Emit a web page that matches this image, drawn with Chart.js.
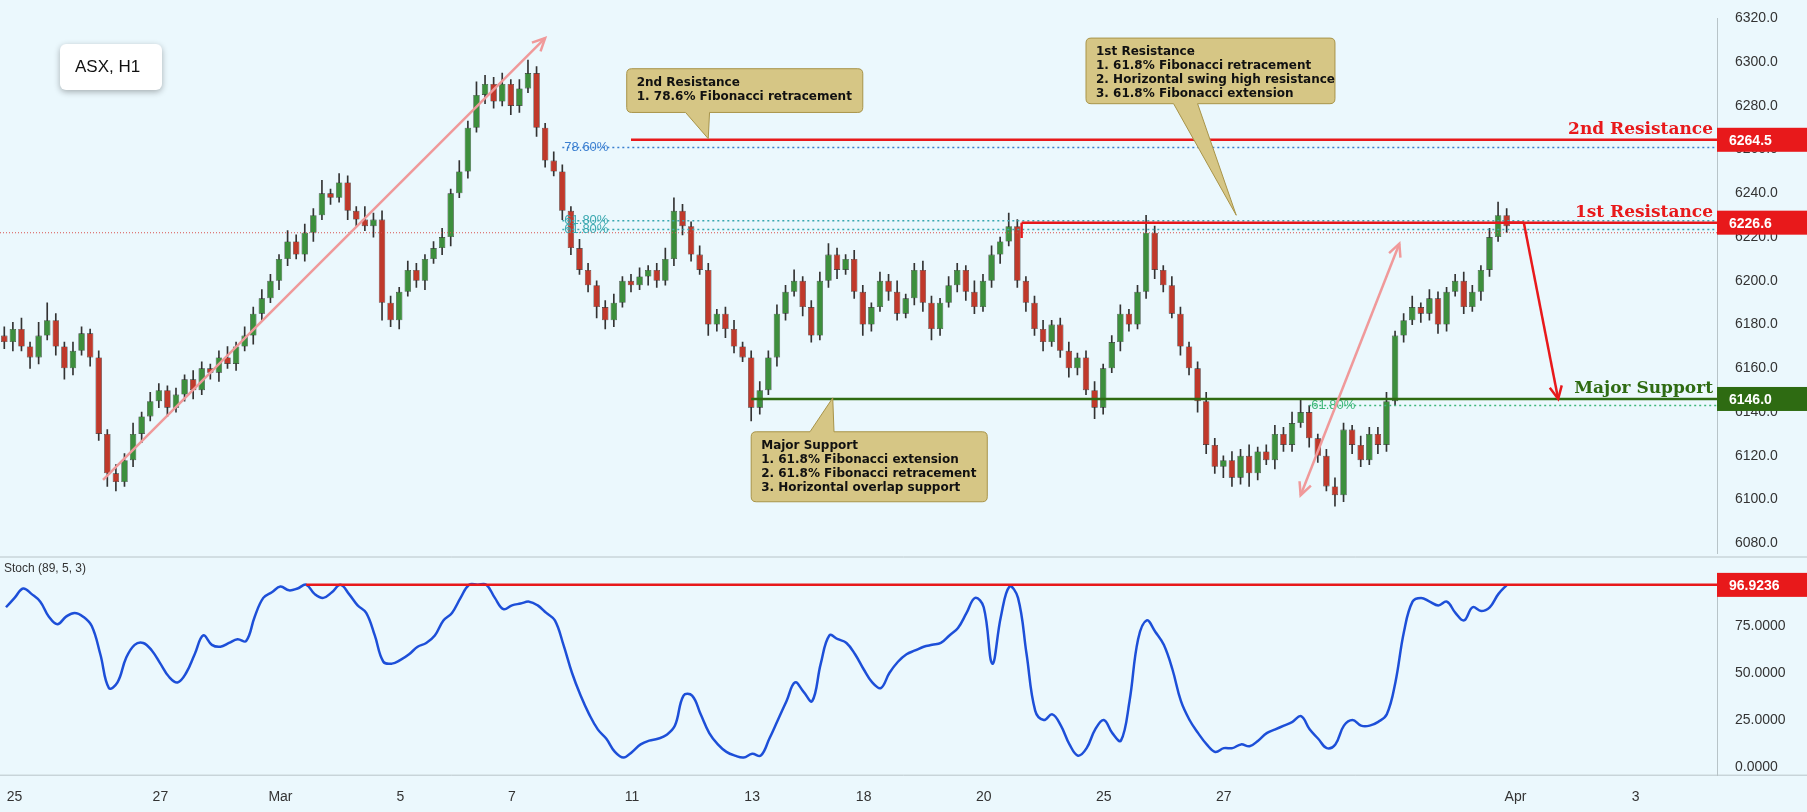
<!DOCTYPE html>
<html><head><meta charset="utf-8">
<script src="https://cdn.jsdelivr.net/npm/chart.js@4.4.1/dist/chart.umd.min.js"></script>
<style>
html,body{margin:0;padding:0;background:#ebf8fd;font-family:"Liberation Sans",Arial,sans-serif;}
#wrap{position:relative;width:1807px;height:812px;overflow:hidden;}
#top{position:absolute;left:0;top:0;width:1807px;height:572px;}
#bot{position:absolute;left:0;top:556px;width:1807px;height:256px;}
</style></head><body>
<div id="wrap">
  <div id="top"><canvas id="priceChart"></canvas></div>
  <div id="bot"><canvas id="stochChart"></canvas></div>
</div>
<script>
// ASX H1 - slots on the category axis, last ones empty (right margin)
const slotCount = 200;
const dayTicks = {1:"25",18:"27",32:"Mar",46:"5",59:"7",73:"11",87:"13",100:"18",114:"20",128:"25",142:"27",176:"Apr",190:"3"};

// hourly closes
const closes = [
  6172,6178,6170,6165,6175,6182,6170,6160,6168,6176,
  6165,6130,6112,6108,6118,6130,6138,6145,6150,6142,
  6148,6155,6150,6160,6158,6165,6162,6170,6175,6185,
  6192,6200,6210,6218,6212,6222,6230,6240,6238,6245,
  6232,6228,6225,6228,6190,6182,6195,6205,6200,6210,
  6215,6220,6240,6250,6270,6285,6290,6282,6290,6280,
  6288,6295,6270,6255,6250,6232,6215,6205,6198,6188,
  6182,6190,6200,6198,6202,6205,6200,6210,6232,6225,
  6212,6205,6180,6185,6178,6170,6165,6142,6150,6165,
  6185,6195,6200,6188,6175,6200,6212,6205,6210,6195,
  6180,6188,6200,6195,6185,6192,6205,6190,6178,6190,
  6198,6205,6195,6188,6200,6212,6218,6225,6200,6190,
  6178,6172,6180,6168,6160,6165,6150,6142,6160,6172,
  6185,6180,6195,6222,6205,6198,6185,6170,6160,6145,
  6125,6115,6118,6110,6120,6112,6122,6118,6130,6125,
  6135,6140,6128,6120,6106,6102,6132,6125,6118,6130,
  6125,6145,6175,6182,6188,6185,6192,6180,6195,6200,
  6188,6195,6205,6220,6230,6225
];
const firstOpen = 6175;
// wick lengths above / below the body
const wickUp = [4,3,5,2,6,8,3,2,4,3, 2,3,2,4,3,5,2,4,3,2, 3,2,4,3,2,3,5,2,4,3, 4,3,2,5,3,4,3,6,2,4, 3,2,6,3,4,3,2,4,3,2, 3,4,2,5,3,6,4,3,5,2, 4,6,3,2,4,3,2,4,3,2, 3,4,2,3,4,2,3,5,6,3, 2,4,3,2,3,4,2,3,4,3, 4,3,5,2,3,4,5,3,2,4, 3,2,4,3,5,2,3,4,3,2, 4,3,2,5,3,4,2,6,3,2, 3,4,2,3,4,2,3,4,2,3, 4,2,3,8,3,2,4,3,2,3, 4,3,2,4,3,5,2,3,4,3, 5,6,3,2,3,4,3,2,4,3, 3,4,2,3,5,2,4,3,2,3, 4,3,2,4,6,3];
const wickDn = [3,4,2,5,3,2,4,5,3,2, 4,3,6,4,2,3,4,2,3,4, 2,3,4,2,3,4,2,3,2,4, 3,2,4,3,2,3,4,2,3,2, 4,3,2,5,8,3,4,2,3,4, 2,3,4,2,3,2,4,3,2,4, 3,2,4,3,2,4,3,2,3,5, 4,3,2,3,2,4,3,2,3,4, 3,2,5,3,4,3,2,6,3,2, 4,3,2,4,3,2,3,4,2,3, 5,3,2,4,3,2,3,4,5,3, 2,3,4,3,2,3,4,2,3,4, 3,4,2,3,4,3,2,5,3,2, 4,3,2,3,4,3,2,4,3,5, 4,3,5,4,3,6,3,2,4,3, 3,2,4,3,2,5,3,4,3,2, 4,3,2,3,2,4,3,4,3,2, 3,2,4,3,2,3];

// Stoch (89,5,3) %K
const stoch = [
  85,90,95,92,88,80,76,80,82,80, 75,60,42,45,58,65,66,62,55,48,
  45,50,60,70,65,64,66,68,67,80, 90,93,96,94,95,97,92,90,93,97,
  92,86,82,70,56,55,57,60,64,66, 70,78,82,90,97,97,97,90,84,86,
  87,88,86,82,78,65,50,38,28,20, 15,8,5,8,12,14,15,17,22,38,
  38,28,18,12,8,6,5,7,6,15, 25,35,45,40,35,55,70,68,66,60,
  52,45,42,50,56,60,62,64,65,66, 70,74,82,90,85,55,80,96,90,60,
  30,25,28,22,12,6,10,20,25,18, 14,35,68,78,72,65,52,35,25,18,
  12,8,10,10,12,11,14,18,20,22, 24,27,20,15,10,12,22,25,22,22,
  24,28,45,72,88,90,88,86,88,82, 78,85,83,85,92,96.9
];

// levels
const res2 = 6264.5, res1 = 6226.6, support = 6146.0, stochHigh = 96.9236;
const priceTicks = [6080,6100,6120,6140,6160,6180,6200,6220,6240,6260,6280,6300,6320];
const stochTicks = [0,25,50,75];

const labels = Array.from({length: slotCount}, (_, i) => dayTicks[i] || "");
const opens = closes.map((c, i) => i === 0 ? firstOpen : closes[i-1]);
const bodies = closes.map((c, i) => [opens[i], c === opens[i] ? c + 0.6 : c]);
const wicks = closes.map((c, i) => [Math.min(opens[i], c) - wickDn[i], Math.max(opens[i], c) + wickUp[i]]);
const upCol = "#3d8f3d", dnCol = "#c0392b";
const candleCol = closes.map((c, i) => c >= opens[i] ? upCol : dnCol);

const bg = {id:"bg", beforeDraw(c){const x=c.ctx;x.save();x.fillStyle="#ebf8fd";x.fillRect(0,0,c.width,c.height);x.restore();}};
const fixW = s => { s.width = 90; };

function tag(ctx, x, y, text, color){
  ctx.font = "bold 14px 'Liberation Sans', Arial";
  ctx.fillStyle = color;
  ctx.fillRect(x, y-12, 90, 24);
  ctx.fillStyle = "#fff";
  ctx.textAlign = "left"; ctx.textBaseline = "middle";
  ctx.fillText(text, x+12, y+1);
}
function arrow(ctx, x1, y1, x2, y2, color, w, both){
  ctx.strokeStyle = color; ctx.lineWidth = w;
  ctx.beginPath(); ctx.moveTo(x1,y1); ctx.lineTo(x2,y2); ctx.stroke();
  const head = (ax, ay, bx, by) => {
    const a = Math.atan2(by-ay, bx-ax), L = 14;
    ctx.beginPath();
    ctx.moveTo(bx - L*Math.cos(a-0.45), by - L*Math.sin(a-0.45));
    ctx.lineTo(bx, by);
    ctx.lineTo(bx - L*Math.cos(a+0.45), by - L*Math.sin(a+0.45));
    ctx.stroke();
  };
  head(x1,y1,x2,y2);
  if (both) head(x2,y2,x1,y1);
}
function callout(ctx, xs, ys, box, tip, lines, tipUp){
  const l = xs.getPixelForValue(box[0]), r = xs.getPixelForValue(box[1]);
  const t = ys.getPixelForValue(box[2]), b = ys.getPixelForValue(box[3]);
  const tx = xs.getPixelForValue(tip[0]), ty = ys.getPixelForValue(tip[1]);
  const bx = l + (r-l)*tip[2];
  ctx.fillStyle = "#d6c685"; ctx.strokeStyle = "#a89449"; ctx.lineWidth = 1;
  ctx.beginPath();
  const rad = 5;
  ctx.moveTo(l+rad, t);
  if (tipUp) { ctx.lineTo(bx-12, t); ctx.lineTo(tx, ty); ctx.lineTo(bx+12, t); }
  ctx.lineTo(r-rad, t); ctx.quadraticCurveTo(r, t, r, t+rad);
  ctx.lineTo(r, b-rad); ctx.quadraticCurveTo(r, b, r-rad, b);
  if (!tipUp) { ctx.lineTo(bx+12, b); ctx.lineTo(tx, ty); ctx.lineTo(bx-12, b); }
  ctx.lineTo(l+rad, b); ctx.quadraticCurveTo(l, b, l, b-rad);
  ctx.lineTo(l, t+rad); ctx.quadraticCurveTo(l, t, l+rad, t);
  ctx.closePath(); ctx.fill(); ctx.stroke();
  ctx.fillStyle = "#111"; ctx.font = "bold 12px 'DejaVu Sans', sans-serif";
  ctx.textAlign = "left"; ctx.textBaseline = "top";
  lines.forEach((s, k) => ctx.fillText(s, l+10, t+8+k*14));
}

const overlay = {
  id: "overlay",
  afterDatasetsDraw(c){
    const ctx = c.ctx, xs = c.scales.x, ys = c.scales.y, ca = c.chartArea;
    const X = v => xs.getPixelForValue(v), Y = v => ys.getPixelForValue(v);
    ctx.save();
    const dotted = (from, p, col, txt) => {
      ctx.setLineDash([2,3]); ctx.strokeStyle = col; ctx.lineWidth = 1.5;
      ctx.beginPath(); ctx.moveTo(X(from), Y(p)); ctx.lineTo(ca.right, Y(p)); ctx.stroke();
      ctx.setLineDash([]);
      if (txt) { ctx.fillStyle = col; ctx.font = "13px 'Liberation Sans', Arial"; ctx.textAlign="left"; ctx.textBaseline="middle"; ctx.fillText(txt, X(from)+2, Y(p)); }
    };
    ctx.setLineDash([1,2]); ctx.strokeStyle = "#d9534f"; ctx.lineWidth = 1;
    ctx.beginPath(); ctx.moveTo(ca.left, Y(6222)); ctx.lineTo(ca.right, Y(6222)); ctx.stroke();
    ctx.setLineDash([]);
    dotted(65, 6261, "#3b7fd0", "78.60%");
    dotted(65, 6227.5, "#3aa8b0", "61.80%");
    dotted(65, 6223.5, "#3aa8b0", "61.80%");
    dotted(152, 6143, "#3fb87a", "61.80%");
    const solid = (from, p, col) => {
      ctx.strokeStyle = col; ctx.lineWidth = 2.5;
      ctx.beginPath(); ctx.moveTo(X(from), Y(p)); ctx.lineTo(ca.right, Y(p)); ctx.stroke();
    };
    solid(73, res2, "#e8191b");
    solid(118.5, res1, "#e8191b");
    ctx.beginPath(); ctx.moveTo(X(118.5), Y(res1)); ctx.lineTo(X(118.5), Y(res1-7)); ctx.stroke();
    solid(87, support, "#2e6b12");
    ctx.font = "bold 17px 'DejaVu Serif', serif"; ctx.textAlign = "right"; ctx.textBaseline = "bottom";
    ctx.fillStyle = "#e8191b";
    ctx.fillText("2nd Resistance", ca.right-4, Y(res2)-2);
    ctx.fillText("1st Resistance", ca.right-4, Y(res1)-2);
    ctx.fillStyle = "#2e6b12";
    ctx.fillText("Major Support", ca.right-4, Y(support)-2);
    arrow(ctx, X(11.5), Y(6109), X(63), Y(6311), "#f0999a", 2.5, false);
    arrow(ctx, X(151), Y(6102), X(162.5), Y(6217), "#f0999a", 2.5, true);
    ctx.strokeStyle = "#e8191b"; ctx.lineWidth = 2.5;
    ctx.beginPath(); ctx.moveTo(X(175), Y(res1)); ctx.lineTo(X(177), Y(res1)); ctx.stroke();
    arrow(ctx, X(177), Y(res1), X(181), Y(support), "#e8191b", 2.5, false);
    callout(ctx, xs, ys, [72.5, 100, 6297, 6277], [82, 6265, 0.3],
      ["2nd Resistance", "1. 78.6% Fibonacci retracement"], false);
    callout(ctx, xs, ys, [126, 155, 6311, 6281], [143.5, 6230, 0.4],
      ["1st Resistance", "1. 61.8% Fibonacci retracement", "2. Horizontal swing high resistance", "3. 61.8% Fibonacci extension"], false);
    callout(ctx, xs, ys, [87, 114.5, 6131, 6099], [96.5, 6146.5, 0.3],
      ["Major Support", "1. 61.8% Fibonacci extension", "2. 61.8% Fibonacci retracement", "3. Horizontal overlap support"], true);
    ctx.shadowColor = "rgba(0,0,0,0.3)"; ctx.shadowBlur = 6; ctx.shadowOffsetY = 2;
    ctx.fillStyle = "#fff"; ctx.beginPath(); ctx.roundRect(60, 44, 102, 46, 6); ctx.fill();
    ctx.shadowColor = "transparent";
    ctx.fillStyle = "#111"; ctx.font = "17px 'Liberation Sans', Arial"; ctx.textAlign = "left"; ctx.textBaseline = "middle";
    ctx.fillText("ASX, H1", 75, 67);
    tag(ctx, ca.right, Y(res2), "6264.5", "#e8191b");
    tag(ctx, ca.right, Y(res1), "6226.6", "#e8191b");
    tag(ctx, ca.right, Y(support), "6146.0", "#2e6b12");
    ctx.restore();
  }
};

new Chart(document.getElementById("priceChart"), {
  type: "bar",
  data: { labels, datasets: [
    { data: wicks, backgroundColor: "#333", barThickness: 1, grouped: false, order: 2 },
    { data: bodies, backgroundColor: candleCol, borderColor: "#2a2a2a", borderWidth: 0.6, borderSkipped: false, barPercentage: 0.75, categoryPercentage: 1, grouped: false, order: 1 }
  ]},
  options: {
    responsive: true, maintainAspectRatio: false, animation: false,
    layout: { padding: 0 },
    plugins: { legend: { display: false }, tooltip: { enabled: false } },
    scales: {
      x: { display: false, offset: true },
      y: { position: "right", min: 6075.3, max: 6320, afterFit: fixW,
           afterBuildTicks: s => { s.ticks = priceTicks.map(v => ({ value: v })); },
           grid: { display: false }, border: { color: "#b8c4c8" },
           ticks: { color: "#333", font: { size: 14, family: "Liberation Sans" }, padding: 10, callback: v => v.toFixed(1) } }
    }
  },
  plugins: [bg, overlay]
});

const stochOverlay = {
  id: "stochOverlay",
  afterDatasetsDraw(c){
    const ctx = c.ctx, xs = c.scales.x, ys = c.scales.y, ca = c.chartArea;
    ctx.save();
    ctx.strokeStyle = "#b8c4c8"; ctx.lineWidth = 1;
    ctx.beginPath(); ctx.moveTo(0, 1); ctx.lineTo(c.width, 1); ctx.stroke();
    ctx.beginPath(); ctx.moveTo(0, ca.bottom); ctx.lineTo(c.width, ca.bottom); ctx.stroke();
    ctx.strokeStyle = "#e8191b"; ctx.lineWidth = 2.5;
    ctx.beginPath(); ctx.moveTo(xs.getPixelForValue(35), ys.getPixelForValue(stochHigh)); ctx.lineTo(ca.right, ys.getPixelForValue(stochHigh)); ctx.stroke();
    tag(ctx, ca.right, ys.getPixelForValue(stochHigh), "96.9236", "#e8191b");
    ctx.fillStyle = "#333"; ctx.font = "12px 'Liberation Sans', Arial"; ctx.textAlign = "left"; ctx.textBaseline = "middle";
    ctx.fillText("Stoch (89, 5, 3)", 4, 13);
    ctx.restore();
  }
};

new Chart(document.getElementById("stochChart"), {
  type: "line",
  data: { labels, datasets: [
    { data: stoch, borderColor: "#1d4fd8", borderWidth: 2.5, pointRadius: 0, tension: 0.4, fill: false }
  ]},
  options: {
    responsive: true, maintainAspectRatio: false, animation: false,
    layout: { padding: 0 },
    plugins: { legend: { display: false }, tooltip: { enabled: false } },
    scales: {
      x: { offset: true, grid: { display: false }, border: { display: false },
           ticks: { color: "#333", font: { size: 14, family: "Liberation Sans" }, autoSkip: false, maxRotation: 0, padding: 6,
                    callback: (v, i) => labels[i] } },
      y: { position: "right", min: -4.4, max: 102.5, afterFit: fixW,
           afterBuildTicks: s => { s.ticks = stochTicks.map(v => ({ value: v })); },
           grid: { display: false }, border: { color: "#b8c4c8" },
           ticks: { color: "#333", font: { size: 14, family: "Liberation Sans" }, padding: 10, callback: v => v.toFixed(4) } }
    }
  },
  plugins: [bg, stochOverlay]
});
</script>
</body></html>
